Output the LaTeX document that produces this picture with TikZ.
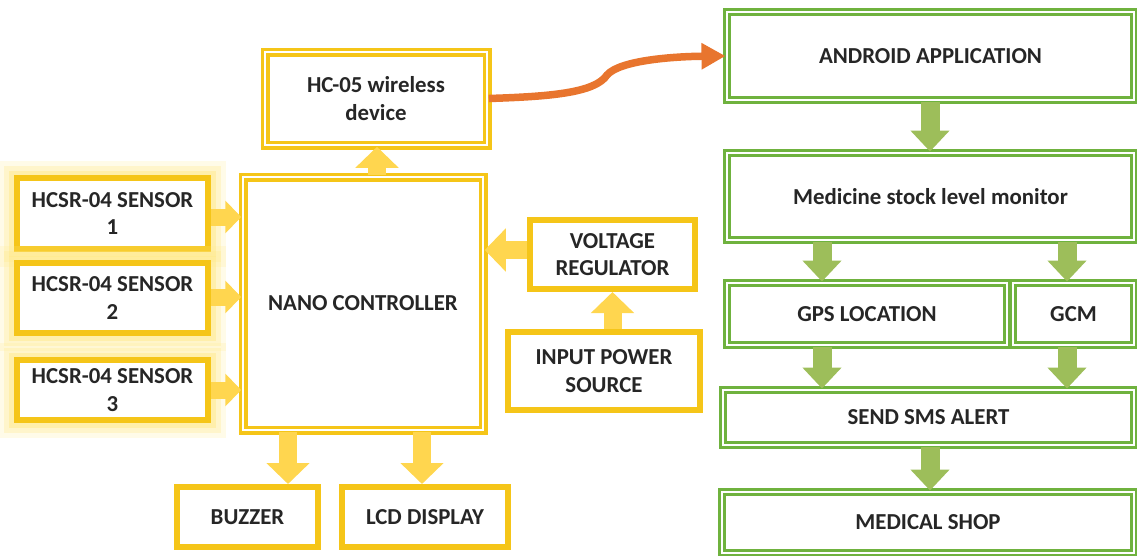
\documentclass[tikz,border=0pt]{standalone}
\usepackage{fontspec}
\setmainfont{Carlito}
\usetikzlibrary{arrows.meta,calc}
\definecolor{gold}{HTML}{F5C518}
\definecolor{goldlight}{HTML}{FFD64F}
\definecolor{glow}{HTML}{FFE98A}
\definecolor{grn}{HTML}{6FB23E}
\definecolor{grnarrow}{HTML}{9DBE5A}
\definecolor{orng}{HTML}{E8752E}
\definecolor{txt}{HTML}{262626}
\tikzset{
  basebox/.style={rectangle, inner sep=2pt, align=center, text=txt, font=\bfseries\fontsize{13}{15.5}\selectfont, fill=white},
  ybox/.style={basebox, draw=gold, line width=0.12cm},
  ydbox/.style={basebox, draw=gold, line width=0.07cm, double=white, double distance=0.04cm},
  gbox/.style={basebox, draw=grn, line width=0.06cm, double=white, double distance=0.03cm},
  glowbox/.style={ybox,
    preaction={draw=glow, line width=0.7cm, opacity=0.2, rounded corners=0.3cm},
    preaction={draw=glow, line width=0.5cm, opacity=0.3, rounded corners=0.2cm},
    preaction={draw=glow, line width=0.3cm, opacity=0.5}},
  yarrow/.style={draw=goldlight, line width=0.36cm, line cap=butt, -{Triangle[width=0.84cm,length=0.42cm]}},
  ysarrow/.style={draw=goldlight, line width=0.34cm, line cap=butt, -{Triangle[width=0.64cm,length=0.32cm]}},
  garrow/.style={draw=grnarrow, line width=0.38cm, line cap=butt, -{Triangle[width=0.76cm,length=0.42cm]}},
}
\begin{document}
\begin{tikzpicture}
\useasboundingbox (0,0) rectangle (22.74,-11.1);
% left yellow part
\node[glowbox, minimum width=3.82cm, minimum height=1.42cm] (s1) at (2.25,-4.27) {HCSR-04 SENSOR\\1};
\node[glowbox, minimum width=3.82cm, minimum height=1.40cm] (s2) at (2.25,-5.96) {HCSR-04 SENSOR\\2};
\node[glowbox, minimum width=3.82cm, minimum height=1.20cm] (s3) at (2.25,-7.80) {HCSR-04 SENSOR\\3};
\node[ydbox, minimum width=4.80cm, minimum height=5.06cm] (nano) at (7.26,-6.07) {NANO CONTROLLER};
\node[ydbox, minimum width=4.44cm, minimum height=1.86cm] (hc) at (7.52,-1.97) {HC-05 wireless\\device};
\node[ybox, minimum width=3.30cm, minimum height=1.38cm] (vr) at (12.25,-5.09) {VOLTAGE\\REGULATOR};
\node[ybox, minimum width=3.84cm, minimum height=1.56cm] (ips) at (12.08,-7.42) {INPUT POWER\\SOURCE};
\node[ybox, minimum width=2.82cm, minimum height=1.20cm] (bz) at (4.95,-10.34) {BUZZER};
\node[ybox, minimum width=3.32cm, minimum height=1.20cm] (lcd) at (8.50,-10.34) {LCD DISPLAY};
% right green part
\node[gbox, minimum width=8.14cm, minimum height=1.76cm] (and) at (18.61,-1.12) {ANDROID APPLICATION};
\node[gbox, minimum width=8.14cm, minimum height=1.74cm] (med) at (18.61,-3.93) {Medicine stock level monitor};
\node[gbox, minimum width=5.60cm, minimum height=1.24cm] (gps) at (17.34,-6.28) {GPS LOCATION};
\node[gbox, minimum width=2.42cm, minimum height=1.24cm] (gcm) at (21.47,-6.28) {GCM};
\node[gbox, minimum width=8.22cm, minimum height=1.10cm] (sms) at (18.57,-8.35) {SEND SMS ALERT};
\node[gbox, minimum width=8.24cm, minimum height=1.22cm] (shop) at (18.56,-10.45) {MEDICAL SHOP};
% helper coordinates
\coordinate (xa1) at (0,-4.34);
\coordinate (xa2) at (0,-5.94);
\coordinate (xa3) at (0,-7.80);
\coordinate (xbz) at (5.76,0);
\coordinate (xlcd) at (8.44,0);
\coordinate (xvr) at (0,-5.0);
\coordinate (xup) at (7.54,0);
\coordinate (xg1) at (16.44,0);
\coordinate (xg2) at (21.34,0);
\coordinate (xg3) at (18.6,0);
% yellow block arrows
\draw[ysarrow] (s1.east |- xa1) -- (nano.west |- xa1);
\draw[ysarrow] (s2.east |- xa2) -- (nano.west |- xa2);
\draw[ysarrow] (s3.east |- xa3) -- (nano.west |- xa3);
\draw[yarrow] (nano.north -| xup) -- (hc.south -| xup);
\draw[yarrow] (nano.south -| xbz) -- (bz.north -| xbz);
\draw[yarrow] (nano.south -| xlcd) -- (lcd.north -| xlcd);
\draw[yarrow] (vr.west |- xvr) -- (nano.east |- xvr);
\draw[yarrow] (ips.north -| vr.south) -- (vr.south);
% green block arrows
\draw[garrow] (and.south -| xg3) -- (med.north -| xg3);
\draw[garrow] (med.south -| xg1) -- (gps.north -| xg1);
\draw[garrow] (med.south -| xg2) -- (gcm.north -| xg2);
\draw[garrow] (gps.south -| xg1) -- (sms.north -| xg1);
\draw[garrow] (gcm.south -| xg2) -- (sms.north -| xg2);
\draw[garrow] (sms.south -| xg3) -- (shop.north -| xg3);
% orange wireless link
\draw[orng, line width=0.15cm, -{Triangle[width=0.5cm,length=0.48cm]}]
  (hc.east) .. controls (11.0,-1.93) and (11.9,-1.86) .. (12.14,-1.5)
  .. controls (12.4,-1.2) and (13.5,-1.13) .. (and.west);
\end{tikzpicture}
\end{document}
